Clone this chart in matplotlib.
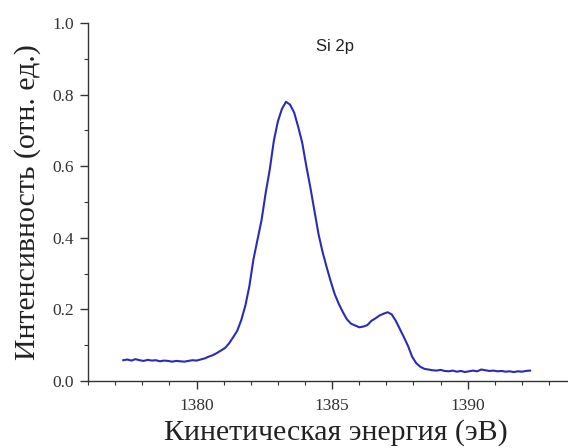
import matplotlib
matplotlib.use("Agg")
import matplotlib.pyplot as plt
import numpy as np
from matplotlib.ticker import MultipleLocator

# Si 2p spectrum (step 0.15 eV from 1377.3 to 1392.3)
e_start = 1377.3
e_stop = 1392.3
intensity = [
    0.058, 0.060, 0.057, 0.061, 0.058, 0.056, 0.059, 0.057, 0.058, 0.055,
    0.057, 0.056, 0.054, 0.056, 0.055, 0.054, 0.056, 0.058, 0.057, 0.060,
    0.063, 0.068, 0.072, 0.078, 0.085, 0.092, 0.105, 0.122, 0.140, 0.170,
    0.210, 0.265, 0.340, 0.395, 0.450, 0.525, 0.590, 0.670, 0.725, 0.760,
    0.780, 0.772, 0.750, 0.710, 0.665, 0.600, 0.540, 0.475, 0.410, 0.360,
    0.318, 0.278, 0.242, 0.215, 0.192, 0.172, 0.160, 0.155, 0.150, 0.152,
    0.156, 0.168, 0.175, 0.183, 0.188, 0.192, 0.186, 0.168, 0.145, 0.122,
    0.098, 0.068, 0.050, 0.040, 0.034, 0.032, 0.030, 0.029, 0.031, 0.028,
    0.027, 0.029, 0.026, 0.028, 0.025, 0.027, 0.029, 0.027, 0.032, 0.030,
    0.028, 0.029, 0.027, 0.028, 0.026, 0.027, 0.025, 0.027, 0.026, 0.028,
    0.029,
]
energy = np.linspace(e_start, e_stop, len(intensity))

x_ticks = [1380, 1385, 1390]
y_ticks = [0.0, 0.2, 0.4, 0.6, 0.8, 1.0]

fig = plt.figure(figsize=(5.68, 4.48), dpi=100)
ax = fig.add_axes([0.155, 0.1496, 0.845, 0.799])

ax.plot(energy, intensity, color="#2b2bb8", lw=1.5)

ax.set_xlim(1376, 1393.7)
ax.set_ylim(0, 1.0)
ax.set_xticks(x_ticks)
ax.set_yticks(y_ticks)
ax.set_yticklabels(["%.1f" % v for v in y_ticks])
ax.xaxis.set_minor_locator(MultipleLocator(1))
ax.yaxis.set_minor_locator(MultipleLocator(0.1))

ax.spines["top"].set_visible(False)
ax.spines["right"].set_visible(False)
for s in ["left", "bottom"]:
    ax.spines[s].set_linewidth(1.0)
    ax.spines[s].set_color("#333333")

ax.tick_params(which="major", direction="out", length=6, width=1.0, color="#333333")
ax.tick_params(which="minor", direction="out", length=3, width=0.8, color="#333333")
ax.tick_params(axis="x", which="major", pad=6)
ax.tick_params(axis="y", which="major", pad=4)
for lab in ax.get_xticklabels() + ax.get_yticklabels():
    lab.set_fontfamily("Liberation Serif")
    lab.set_fontsize(12.5)
    lab.set_color("#333333")

ax.set_xlabel("Кинетическая энергия (эВ)", family="Liberation Serif", fontsize=21.5, color="#222222")
ax.set_ylabel("Интенсивность (отн. ед.)", family="Liberation Serif", fontsize=21.5, color="#222222", labelpad=8)
ax.xaxis.set_label_coords(0.517, -0.105)

ax.text(1385.1, 0.935, "Si 2p", family="Liberation Sans", fontsize=12, ha="center", va="center", color="#222222")

fig.savefig("out.png", dpi=100)
